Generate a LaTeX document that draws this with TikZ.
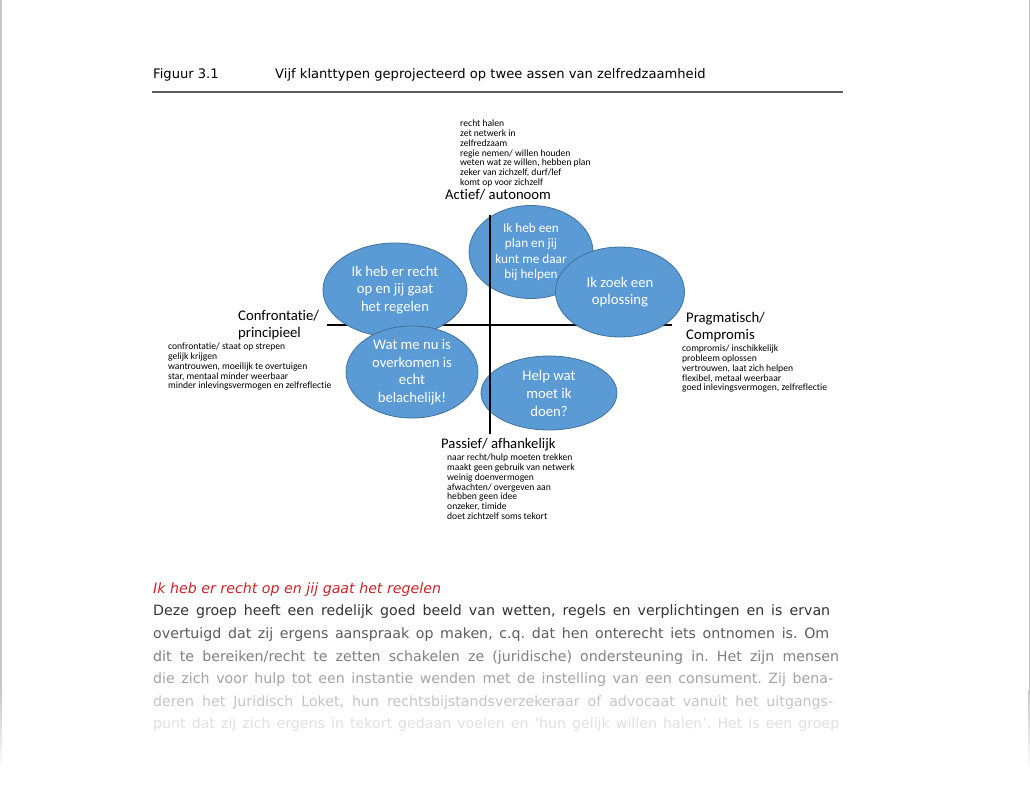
\documentclass[tikz,border=0pt]{standalone}
\usepackage{fontspec}
\newfontfamily\verd{DejaVu Sans}
\newfontfamily\cali[Ligatures=NoCommon]{Carlito}
\usetikzlibrary{shapes.geometric, positioning}
\definecolor{typefill}{HTML}{5B9BD5}
\definecolor{typeline}{HTML}{41719C}
\definecolor{kopred}{RGB}{206,34,40}
\frenchspacing

\begin{document}
\begin{tikzpicture}[x=1pt, y=-1pt,
  klanttype/.style={ellipse, draw=typeline, line width=0.8pt, fill=typefill, text=white, inner sep=0pt, align=center, font=\cali\fontsize{14.7}{17.5}\selectfont},
  asline/.style={line width=1.6pt, black},
  aslabel/.style={inner sep=0pt, align=left, font=\cali\fontsize{14.7}{17}\selectfont},
  kenmerk/.style={inner sep=0pt, align=left, anchor=north west, font=\cali\fontsize{9.6}{9.9}\selectfont},
  tekst/.style={inner sep=0pt, anchor=base west, font=\verd\fontsize{14.2}{22}\selectfont}]
  \useasboundingbox (0,0) rectangle (1030,810);

  % Paginaranden
  \fill[black!22] (0,0) rectangle (1.5,690);
  \shade[top color=black!22, bottom color=white] (0,690) rectangle (1.5,770);
  \fill[black!22] (1028.5,0) rectangle (1030,690);
  \shade[top color=black!22, bottom color=white] (1028.5,690) rectangle (1030,770);

  % Kop
  \node[anchor=base west, inner sep=0pt, font=\verd\fontsize{13.1}{15}\selectfont] (fignr) at (153,79) {Figuur 3.1};
  \node[anchor=base west, inner sep=0pt, font=\verd\fontsize{13.1}{15}\selectfont] (figtitel) at (275,79) {Vijf klanttypen geprojecteerd op twee assen van zelfredzaamheid};
  \draw[black!65, line width=1.3pt] (152,92) -- (843,92);

  % Assen
  \coordinate (links) at (327,325);
  \coordinate (rechts) at (672,325);
  \coordinate (boven) at (490,215);
  \coordinate (onder) at (490,434);
  \draw[asline] (links) -- (rechts);

  % Klanttypen
  \node[klanttype, minimum width=124pt, minimum height=93pt, font=\cali\fontsize{13.2}{15.5}\selectfont] (plan) at (531,252) {Ik heb een\\plan en jij\\kunt me daar\\bij helpen};
  \node[klanttype, minimum width=129pt, minimum height=90pt] (zoek) at (620,292) {Ik zoek een\\oplossing};
  \node[klanttype, minimum width=144pt, minimum height=94pt] (recht) at (395,290) {Ik heb er recht\\op en jij gaat\\het regelen};
  \node[klanttype, minimum width=132pt, minimum height=84pt] (watme) at (412,372) {Wat me nu is\\overkomen is\\echt\\belachelijk!};
  \node[klanttype, minimum width=136pt, minimum height=74pt, font=\cali\fontsize{14.7}{18}\selectfont] (help) at (549,393) {Help wat\\moet ik\\doen?};
  \draw[asline] (boven) -- (onder);

  % Aslabels
  \node[aslabel] (actief) at (498,195) {Actief/ autonoom};
  \node[aslabel, anchor=west] (confr) at (238,325) {Confrontatie/\\principieel};
  \node[aslabel, anchor=west] (pragm) at (686,327) {Pragmatisch/\\Compromis};
  \node[aslabel, anchor=west] (passief) at (441,445) {Passief/ afhankelijk};

  % Kenmerken
  \node[kenmerk] (kboven) at (460,119.5) {recht halen\\zet netwerk in\\zelfredzaam\\regie nemen/ willen houden\\weten wat ze willen, hebben plan\\zeker van zichzelf, durf/lef\\komt op voor zichzelf};
  \node[kenmerk] (klinks) at (168,342.5) {confrontatie/ staat op strepen\\gelijk krijgen\\wantrouwen, moeilijk te overtuigen\\star, mentaal minder weerbaar\\minder inlevingsvermogen en zelfreflectie};
  \node[kenmerk] (krechts) at (682,344.5) {compromis/ inschikkelijk\\probleem oplossen\\vertrouwen, laat zich helpen\\flexibel, metaal weerbaar\\goed inlevingsvermogen, zelfreflectie};
  \node[kenmerk] (konder) at (447,453.5) {naar recht/hulp moeten trekken\\maakt geen gebruik van netwerk\\weinig doenvermogen\\afwachten/ overgeven aan\\hebben geen idee\\onzeker, timide\\doet zichtzelf soms tekort};

  % Lopende tekst
  \node[tekst, text=kopred, font=\verd\itshape\fontsize{14.2}{22}\selectfont] (kop) at (153,593.5) {Ik heb er recht op en jij gaat het regelen};
  \node[tekst, text=black!80] (r1) at (153,615.5) {\makebox[677pt][s]{Deze groep heeft een redelijk goed beeld van wetten, regels en verplichtingen en is ervan}};
  \node[tekst, text=black!64] (r2) at (153,638.5) {\makebox[676pt][s]{overtuigd dat zij ergens aanspraak op maken, c.q. dat hen onterecht iets ontnomen is. Om}};
  \node[tekst, text=black!50] (r3) at (153,661.5) {\makebox[686pt][s]{dit te bereiken/recht te zetten schakelen ze (juridische) ondersteuning in. Het zijn mensen}};
  \node[tekst, text=black!36] (r4) at (153,683.5) {\makebox[680pt][s]{die zich voor hulp tot een instantie wenden met de instelling van een consument. Zij bena-}};
  \node[tekst, text=black!23] (r5) at (153,706.5) {\makebox[680pt][s]{deren het Juridisch Loket, hun rechtsbijstandsverzekeraar of advocaat vanuit het uitgangs-}};
  \node[tekst, text=black!12] (r6) at (153,728.5) {\makebox[686pt][s]{punt dat zij zich ergens in tekort gedaan voelen en ‘hun gelijk willen halen’. Het is een groep}};
\end{tikzpicture}
\end{document}
